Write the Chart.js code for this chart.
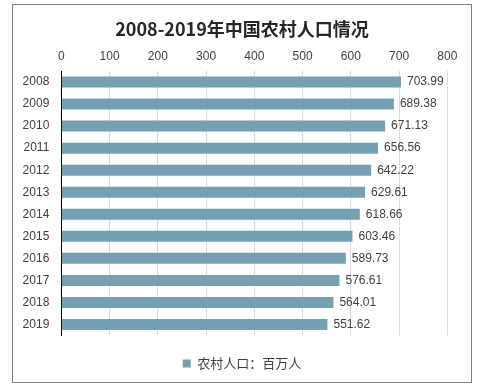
<!DOCTYPE html>
<html>
<head>
<meta charset="utf-8">
<script src="https://cdn.jsdelivr.net/npm/chart.js@4/dist/chart.umd.min.js"></script>
<style>
  body { margin: 0; background: #fff; }
  #box { position: absolute; left: 12px; top: 4px; width: 458px; height: 377px; border: 1px solid #808080; }
  canvas { display: block; }
</style>
</head>
<body>
<div id="box"><canvas id="myChart" width="458" height="377"></canvas></div>
<script>
const years = ['2008', '2009', '2010', '2011', '2012', '2013', '2014', '2015', '2016', '2017', '2018', '2019'];
const rural = [703.99, 689.38, 671.13, 656.56, 642.22, 629.61, 618.66, 603.46, 589.73, 576.61, 564.01, 551.62];
const xTicks = [0, 100, 200, 300, 400, 500, 600, 700, 800];

const textColor = '#404040';
const baseFont = "'Liberation Sans', Arial, 'Noto Sans CJK SC', sans-serif";

// value labels at the end of each bar
const barLabels = {
	id: 'barLabels',
	afterDatasetsDraw(chart) {
		const ctx = chart.ctx;
		const meta = chart.getDatasetMeta(0);
		ctx.save();
		ctx.font = '12px ' + baseFont;
		ctx.fillStyle = textColor;
		ctx.textAlign = 'left';
		ctx.textBaseline = 'middle';
		meta.data.forEach((bar, i) => {
			ctx.fillText(rural[i].toFixed(2), bar.x + 6, bar.y);
		});
		ctx.restore();
	}
};

new Chart(
	document.getElementById('myChart'),
	{
		type: 'bar',
		data: {
			labels: years,
			datasets: [
				{
					label: '农村人口：百万人',
					data: rural,
					backgroundColor: '#75a0b2',
					borderWidth: 0,
					barPercentage: 0.5,
					categoryPercentage: 1.0
				}
			]
		},
		options: {
			indexAxis: 'y',
			responsive: false,
			animation: false,
			layout: { padding: { left: 0, right: 0, top: 0, bottom: 2 } },
			plugins: {
				title: {
					display: true,
					text: '2008-2019年中国农村人口情况',
					color: '#262626',
					font: { size: 18, weight: 'bold', family: "'Noto Sans CJK SC', 'Liberation Sans', sans-serif" },
					padding: { top: 13.6, bottom: 5 }
				},
				legend: {
					position: 'bottom',
					labels: {
						color: textColor,
						boxWidth: 8,
						boxHeight: 8,
						padding: 21.5,
						font: { size: 13, family: "'Noto Sans CJK SC', sans-serif" }
					}
				},
				tooltip: { enabled: false }
			},
			scales: {
				x: {
					position: 'top',
					min: 0,
					max: 800,
					afterBuildTicks: axis => { axis.ticks = xTicks.map(v => ({ value: v })); },
					afterFit: axis => { axis.height = 25.8; },
					grid: { color: '#d9d9d9', drawTicks: false },
					border: { display: false },
					ticks: { color: textColor, padding: 7.5, font: { size: 12, family: baseFont } }
				},
				y: {
					afterFit: axis => { axis.width = 48.3; },
					grid: { display: false, drawTicks: false },
					border: { display: true, color: '#000000', width: 1 },
					ticks: { color: textColor, padding: 12, font: { size: 12, family: baseFont } }
				},
				// empty right-hand spacer so the plot ends where the reference does
				spacer: {
					type: 'linear',
					axis: 'y',
					position: 'right',
					afterFit: axis => { axis.width = 23.7; },
					grid: { display: false, drawTicks: false },
					border: { display: false },
					ticks: { display: false }
				}
			}
		},
		plugins: [barLabels]
	}
);
</script>
</body>
</html>
